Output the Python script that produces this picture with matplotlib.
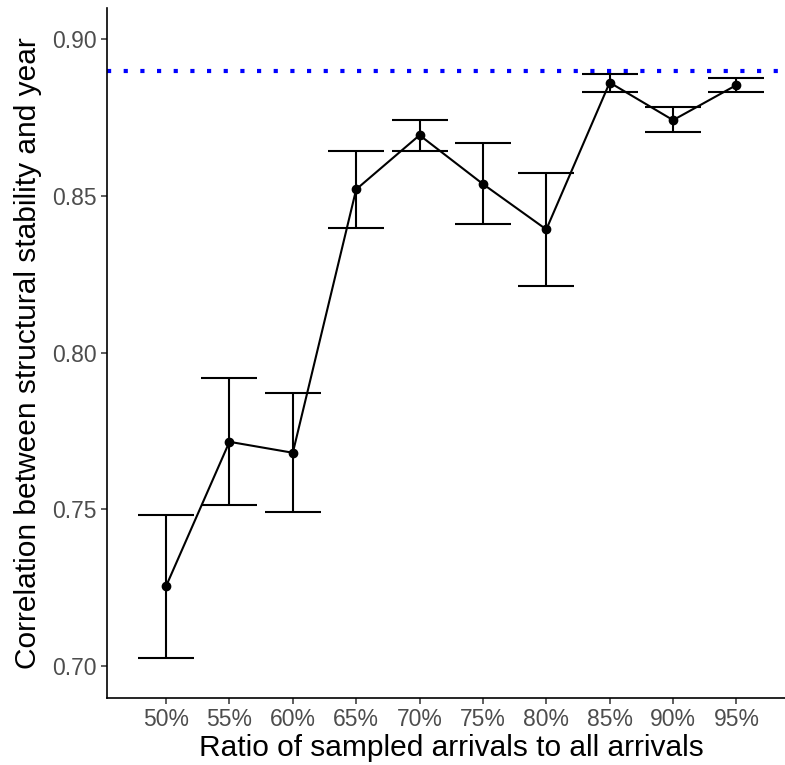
import matplotlib
matplotlib.use("Agg")
import matplotlib.pyplot as plt
import numpy as np

plt.rcParams['font.family'] = ['Liberation Sans', 'DejaVu Sans']

categories = ["50%", "55%", "60%", "65%", "70%", "75%", "80%", "85%", "90%", "95%"]
ratios = [0.50, 0.55, 0.60, 0.65, 0.70, 0.75, 0.80, 0.85, 0.90, 0.95]
mean_corr = [0.7254, 0.7715, 0.7680, 0.8521, 0.8694, 0.8538, 0.8393, 0.8862, 0.8742, 0.8854]
upper = [0.7481, 0.7919, 0.7870, 0.8643, 0.8742, 0.8668, 0.8574, 0.8890, 0.8785, 0.8877]
lower = [0.7024, 0.7514, 0.7490, 0.8398, 0.8643, 0.8409, 0.8213, 0.8832, 0.8703, 0.8831]
reference_level = 0.89
y_ticks = [0.70, 0.75, 0.80, 0.85, 0.90]

W, H = 785, 765
fig = plt.figure(figsize=(W / 100, H / 100), dpi=100)
left, right, top, bottom = 107, 795.5, 8, 697.7
ax = fig.add_axes([left / W, (H - bottom) / H, (right - left) / W, (bottom - top) / H])

x = np.array(ratios)
y = np.array(mean_corr)
yerr = np.vstack([y - np.array(lower), np.array(upper) - y])

ax.axhline(reference_level, color='#0000FF', lw=3, linestyle=(0, (1, 3)),
           dash_capstyle='butt', zorder=1)
ax.errorbar(x, y, yerr=yerr, fmt='none', ecolor='black', elinewidth=1.5,
            capsize=20.5, capthick=1.5, zorder=2)
ax.plot(x, y, color='black', lw=1.5, zorder=3)
ax.plot(x, y, 'o', color='black', markersize=6, zorder=4)

ax.set_xlim(0.4534, 0.9966)
ax.set_ylim(0.6898, 0.9100)
ax.set_xticks(x)
ax.set_xticklabels(categories)
ax.set_yticks(y_ticks)
ax.set_yticklabels([f"{v:.2f}" for v in y_ticks])

for s in ['top', 'right']:
    ax.spines[s].set_visible(False)
for s in ['left', 'bottom']:
    ax.spines[s].set_linewidth(1.2)
    ax.spines[s].set_color('black')
ax.tick_params(axis='both', colors='#333333', labelcolor='#4D4D4D',
               labelsize=16.5, length=4, width=1.1, pad=3.5)

ax.set_xlabel("Ratio of sampled arrivals to all arrivals", fontsize=21.5, labelpad=2)
ax.set_ylabel("Correlation between structural stability and year", fontsize=21.5, labelpad=7)

fig.savefig("out.png", dpi=100)
